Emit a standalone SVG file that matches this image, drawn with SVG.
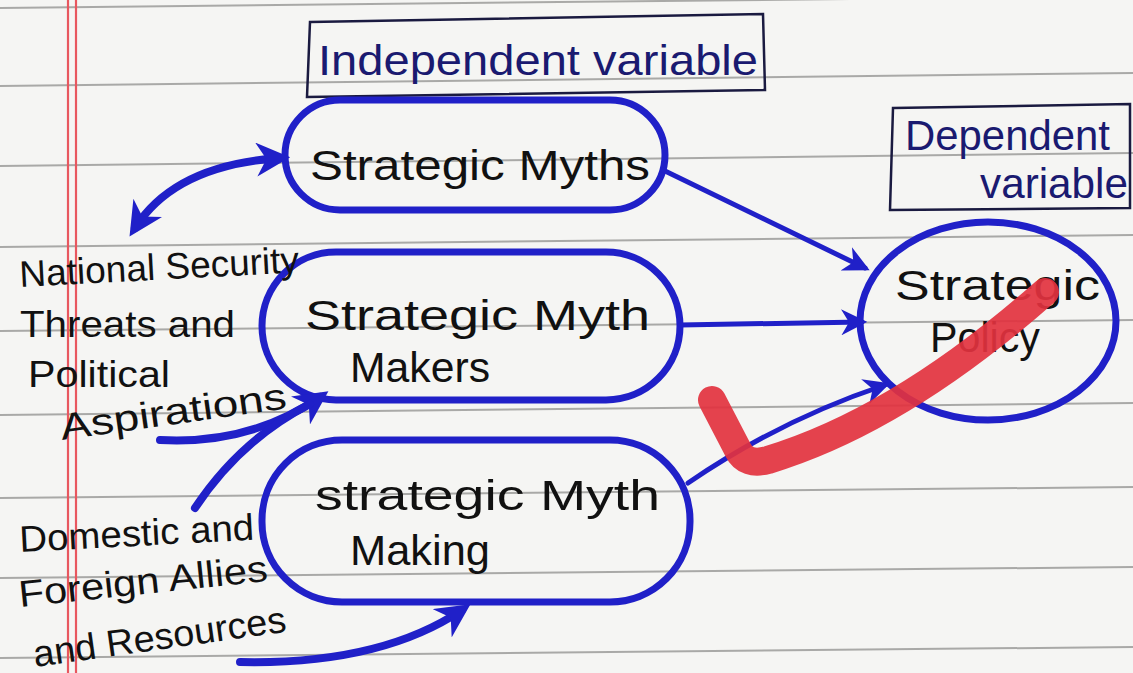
<svg xmlns="http://www.w3.org/2000/svg" width="1133" height="673" viewBox="0 0 1133 673">
<defs>
<style>
.rule{stroke:#8a8a88;stroke-width:2;opacity:0.7}
.margin{stroke:#e8575f;stroke-width:2.2}
.node{fill:none;stroke:#2020c8;stroke-width:7}
.box{fill:none;stroke:#1a1a40;stroke-width:2.5}
.conn{fill:none;stroke:#2020c8;stroke-width:5;stroke-linecap:round}
.thick{stroke-width:8}
.lbl{font-family:"Liberation Sans",Arial,sans-serif;fill:#111;font-size:42px}
.side{font-family:"Liberation Sans",Arial,sans-serif;fill:#111;font-size:37px}
.var{font-family:"Liberation Sans",Arial,sans-serif;fill:#1a1a70;font-size:42px}
</style>
<marker id="ah" viewBox="0 0 10 10" refX="8" refY="5" markerWidth="26" markerHeight="26" markerUnits="userSpaceOnUse" orient="auto-start-reverse">
<path d="M0,0 L10,5 L0,10 L3,5 z" fill="#2020c8"/>
</marker>
<marker id="ahb" viewBox="0 0 10 10" refX="7" refY="5" markerWidth="34" markerHeight="34" markerUnits="userSpaceOnUse" orient="auto-start-reverse">
<path d="M0,0 L10,5 L0,10 L3,5 z" fill="#2020c8"/>
</marker>
</defs>
<rect width="1133" height="673" fill="#f5f5f3"/>
<g id="paper">
<line class="rule" x1="0" y1="8" x2="1133" y2="-4"/>
<line class="rule" x1="0" y1="86" x2="1133" y2="73"/>
<line class="rule" x1="0" y1="166" x2="1133" y2="153"/>
<line class="rule" x1="0" y1="247" x2="1133" y2="235"/>
<line class="rule" x1="0" y1="331" x2="1133" y2="320"/>
<line class="rule" x1="0" y1="415" x2="1133" y2="403"/>
<line class="rule" x1="0" y1="498" x2="1133" y2="487"/>
<line class="rule" x1="0" y1="578" x2="1133" y2="567"/>
<line class="rule" x1="0" y1="658" x2="1133" y2="647"/>
<line class="margin" x1="68" y1="0" x2="68" y2="673"/>
<line class="margin" x1="76" y1="0" x2="76" y2="673"/>
</g>
<g id="independent-variable">
<path class="box" d="M310 22 L763 14 L765 90 L307 97 Z"/>
<text class="var" x="318" y="75" textLength="440" lengthAdjust="spacingAndGlyphs">Independent variable</text>
</g>
<g id="dependent-variable">
<path class="box" d="M893 108 L1130 104 L1130 208 L890 210 Z"/>
<text class="var" x="905" y="150" textLength="205" lengthAdjust="spacingAndGlyphs">Dependent</text>
<text class="var" x="980" y="198" textLength="148" lengthAdjust="spacingAndGlyphs">variable</text>
</g>
<g id="strategic-myths">
<rect class="node" x="285" y="100" width="380" height="110" rx="55"/>
<text class="lbl" x="310" y="180" textLength="340" lengthAdjust="spacingAndGlyphs">Strategic Myths</text>
</g>
<g id="strategic-myth-makers">
<rect class="node" x="262" y="252" width="418" height="148" rx="74"/>
<text class="lbl" x="305" y="330" textLength="345" lengthAdjust="spacingAndGlyphs">Strategic Myth</text>
<text class="lbl" x="350" y="382" textLength="140" lengthAdjust="spacingAndGlyphs">Makers</text>
</g>
<g id="strategic-myth-making">
<rect class="node" x="262" y="440" width="428" height="162" rx="80"/>
<text class="lbl" x="315" y="510" textLength="345" lengthAdjust="spacingAndGlyphs">strategic Myth</text>
<text class="lbl" x="350" y="565" textLength="140" lengthAdjust="spacingAndGlyphs">Making</text>
</g>
<g id="strategic-policy">
<ellipse class="node" cx="988" cy="321" rx="128" ry="99"/>
<text class="lbl" x="895" y="300" textLength="205" lengthAdjust="spacingAndGlyphs">Strategic</text>
<text class="lbl" x="930" y="352" textLength="110" lengthAdjust="spacingAndGlyphs">Policy</text>
</g>
<g id="national-security">
<text class="side" x="20" y="287" textLength="280" lengthAdjust="spacingAndGlyphs" transform="rotate(-3 20 287)">National Security</text>
<text class="side" x="20" y="337" textLength="215" lengthAdjust="spacingAndGlyphs">Threats and</text>
<text class="side" x="28" y="387" textLength="142" lengthAdjust="spacingAndGlyphs">Political</text>
<text class="side" x="62" y="440" textLength="228" lengthAdjust="spacingAndGlyphs" transform="rotate(-8 62 440)">Aspirations</text>
</g>
<g id="domestic-foreign">
<text class="side" x="20" y="552" textLength="235" lengthAdjust="spacingAndGlyphs" transform="rotate(-3 20 552)">Domestic and</text>
<text class="side" x="20" y="607" textLength="250" lengthAdjust="spacingAndGlyphs" transform="rotate(-6 20 607)">Foreign Allies</text>
<text class="side" x="35" y="667" textLength="255" lengthAdjust="spacingAndGlyphs" transform="rotate(-8 35 667)">and Resources</text>
</g>
<g id="connectors">
<path class="conn" d="M663 170 L865 268" marker-end="url(#ah)"/>
<path class="conn" d="M680 325 L862 322" marker-end="url(#ah)"/>
<path class="conn" d="M688 483 Q780 420 885 385" marker-end="url(#ah)"/>
<path class="conn thick" d="M280 158 Q175 165 135 228" marker-start="url(#ahb)" marker-end="url(#ahb)"/>
<path class="conn thick" d="M160 440 Q250 445 320 397" marker-end="url(#ahb)"/>
<path class="conn thick" d="M195 508 Q240 440 310 404"/>
<path class="conn thick" d="M240 662 Q380 665 462 610" marker-end="url(#ahb)"/>
</g>
<g id="check-mark">
<path d="M712 400 L738 450 Q746 466 768 460 Q900 420 1045 292" fill="none" stroke="#e2323f" stroke-width="28" stroke-linecap="round" stroke-linejoin="round" opacity="0.92"/>
</g>
</svg>
